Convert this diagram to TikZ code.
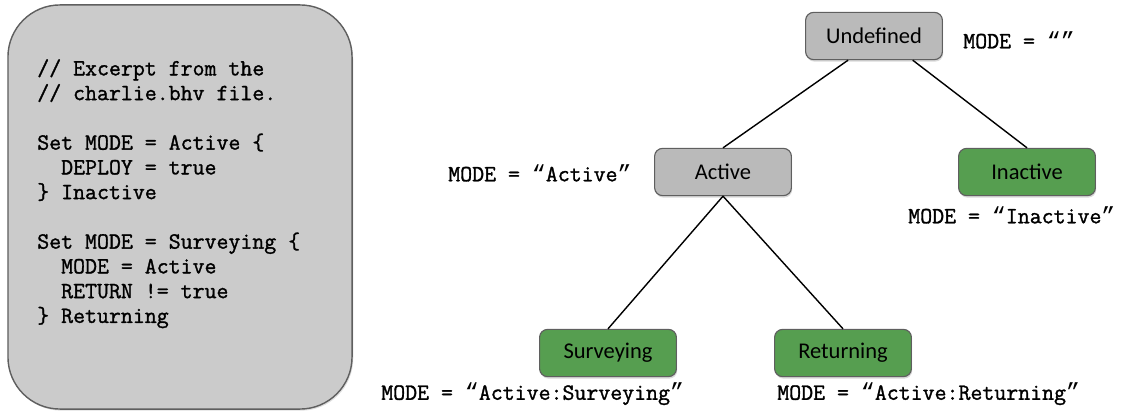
\documentclass[tikz,border=0pt]{standalone}
\usepackage{fontspec}
\setmainfont{Carlito}
\newfontfamily\codefont{Latin Modern Mono}[FakeBold=1.3]
\newfontfamily\quotefont{Liberation Mono}
\newcommand\modeq[1]{{\quotefont “}#1{\quotefont ”}}
\usetikzlibrary{shadows}
\definecolor{boxgray}{RGB}{203,203,203}
\definecolor{stategray}{RGB}{186,186,186}
\definecolor{stategreen}{RGB}{86,158,80}
\definecolor{edgegray}{RGB}{95,95,95}

\begin{document}
\begin{tikzpicture}[x=0.025cm, y=-0.025cm,
    codebox/.style={draw=edgegray, fill=boxgray, line width=1pt, rounded corners=1.3cm,
      minimum width=8.6cm, minimum height=10.1cm, inner sep=0pt,
      drop shadow={opacity=0.25, shadow xshift=0.03cm, shadow yshift=-0.04cm}},
    code/.style={font=\codefont\fontsize{16.5}{17.6}\selectfont, align=left, inner sep=0pt},
    state/.style={draw=edgegray, line width=0.8pt, rounded corners=0.2cm,
      minimum width=3.42cm, minimum height=1.18cm, inner sep=0pt,
      font=\fontsize{16}{18}\selectfont,
      drop shadow={opacity=0.3, shadow xshift=0.02cm, shadow yshift=-0.05cm}},
    undecided/.style={state, fill=stategray},
    leaf/.style={state, fill=stategreen},
    modelabel/.style={font=\codefont\fontsize{16.5}{17}\selectfont, inner sep=0pt}]
  \useasboundingbox (0,0) rectangle (1122,412);

  % the behaviour file excerpt
  \node[codebox] (box) at (180,207) {};
  \node[code, anchor=north west] (code) at (37,59) {%
    // Excerpt from the\\
    // charlie.bhv file.\\[17.6pt]
    Set MODE = Active \{\\
    \ \ DEPLOY = true\\
    \} Inactive\\[17.6pt]
    Set MODE = Surveying \{\\
    \ \ MODE = Active\\
    \ \ RETURN != true\\
    \} Returning};

  % the mode tree
  \node[undecided] (undef) at (874,36) {Undefined};
  \node[undecided] (active) at (723,172) {Active};
  \node[leaf] (inactive) at (1027,172) {Inactive};
  \node[leaf] (surv) at (608,353) {Surveying};
  \node[leaf] (ret) at (843,353) {Returning};

  \draw[line width=1pt] (undef.223) -- (active.north);
  \draw[line width=1pt] (undef.328) -- (inactive.north);
  \draw[line width=1pt] (active.south) -- (surv.north);
  \draw[line width=1pt] (active.south) -- (ret.north);

  \node[modelabel, anchor=west] (lundef) at (963,40) {MODE = \modeq{}};
  \node[modelabel, anchor=west] (lactive) at (448,173) {MODE = \modeq{Active}};
  \node[modelabel, anchor=west] (linactive) at (908,215) {MODE = \modeq{Inactive}};
  \node[modelabel, anchor=west] (lsurv) at (381,394) {MODE = \modeq{Active:Surveying}};
  \node[modelabel, anchor=west] (lret) at (777,394) {MODE = \modeq{Active:Returning}};
\end{tikzpicture}
\end{document}
